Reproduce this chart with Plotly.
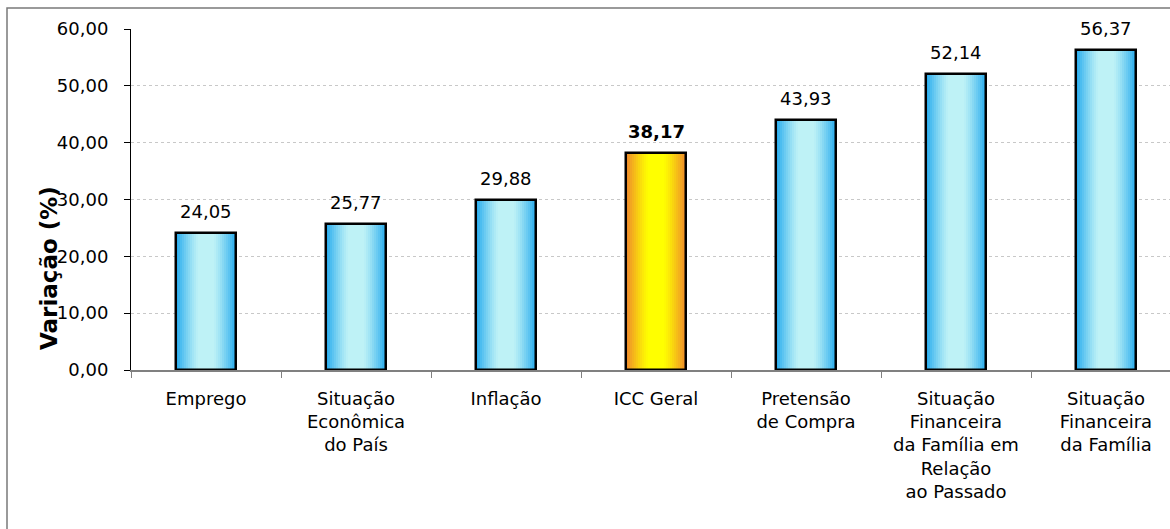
import plotly.graph_objects as go

categories = ["Emprego", "Situação<br>Econômica<br>do País", "Inflação", "ICC Geral",
              "Pretensão<br>de Compra",
              "Situação<br>Financeira<br>da Família em<br>Relação<br>ao Passado",
              "Situação<br>Financeira<br>da Família"]
values = [24.05, 25.77, 29.88, 38.17, 43.93, 52.14, 56.37]
highlight = "ICC Geral"
y_ticks = [0, 10, 20, 30, 40, 50, 60]

FONT = "DejaVu Sans"
W, H = 1170, 529
ML, MR, MT, MB = 131, 0, 29, 159
PW, PH = W - ML - MR, H - MT - MB
BAR_W = 0.4
N = 30

blue_edge = (36, 170, 238)
blue_mid = (190, 242, 246)
org_edge = (238, 134, 44)
org_mid = (255, 255, 0)


def mix(a, b, f):
    return "rgb(%d,%d,%d)" % tuple(round(a[i] + (b[i] - a[i]) * f) for i in range(3))


def profile(t):
    d = abs(2 * t - 1)
    if d < 0.25:
        return 1.0
    return max(0.0, 1 - ((d - 0.25) / 0.75) ** 1.2)


fig = go.Figure()
step = BAR_W / N
for i in range(N):
    t = (i + 0.5) / N
    f = profile(t)
    cols = [mix(org_edge, org_mid, f) if c == highlight else mix(blue_edge, blue_mid, f)
            for c in categories]
    w = step * 1.6 if i < N - 1 else step
    fig.add_trace(go.Bar(x=categories, y=values, width=w, offset=-BAR_W / 2 + i * step,
                         marker=dict(color=cols, line=dict(width=0)),
                         hoverinfo="skip", showlegend=False))

fig.add_trace(go.Bar(x=categories, y=values, width=BAR_W, offset=-BAR_W / 2,
                     marker=dict(color="rgba(0,0,0,0)", line=dict(color="black", width=2.5)),
                     showlegend=False))

for c, v in zip(categories, values):
    txt = f"{v:.2f}".replace(".", ",")
    if c == highlight:
        txt = f"<b>{txt}</b>"
    fig.add_annotation(x=c, y=v, text=txt, showarrow=False, yanchor="bottom", yshift=9,
                       font=dict(family=FONT, size=18, color="black"))

fig.add_annotation(xref="paper", yref="paper", x=(49 - ML) / PW, y=(370 - 268) / PH,
                   xanchor="center", yanchor="middle",
                   text="<b>Variação (%)</b>", textangle=-90, showarrow=False,
                   font=dict(family=FONT, size=23, color="black"))

fig.add_shape(type="rect", xref="paper", yref="paper",
              x0=(7 - ML) / PW, x1=1.05, y0=-0.5, y1=1 + (MT - 8) / PH,
              line=dict(color="#7a7a7a", width=1.5), fillcolor="rgba(0,0,0,0)", layer="below")

fig.update_layout(
    width=W, height=H, margin=dict(l=ML, r=MR, t=MT, b=MB),
    barmode="overlay", bargap=0,
    plot_bgcolor="white", paper_bgcolor="white",
    separators=",.",
    font=dict(family=FONT, size=18, color="black"),
    xaxis=dict(range=[-0.5, -0.5 + PW / 150], showline=True, linecolor="#808080", linewidth=2,
               ticks="outside", tickson="boundaries", ticklen=6, tickcolor="#808080",
               ticklabelstandoff=11, showgrid=False,
               tickfont=dict(family=FONT, size=18, color="black")),
    yaxis=dict(range=[0, 60], tickvals=y_ticks, tickformat=".2f", showline=True,
               linecolor="black", linewidth=1, ticks="outside", ticklen=6, tickcolor="black",
               ticklabelstandoff=12, showgrid=True, gridcolor="#c8c8c8", griddash="dot",
               gridwidth=1, zeroline=False,
               tickfont=dict(family=FONT, size=18, color="black")),
)

fig.write_html("out.html")
